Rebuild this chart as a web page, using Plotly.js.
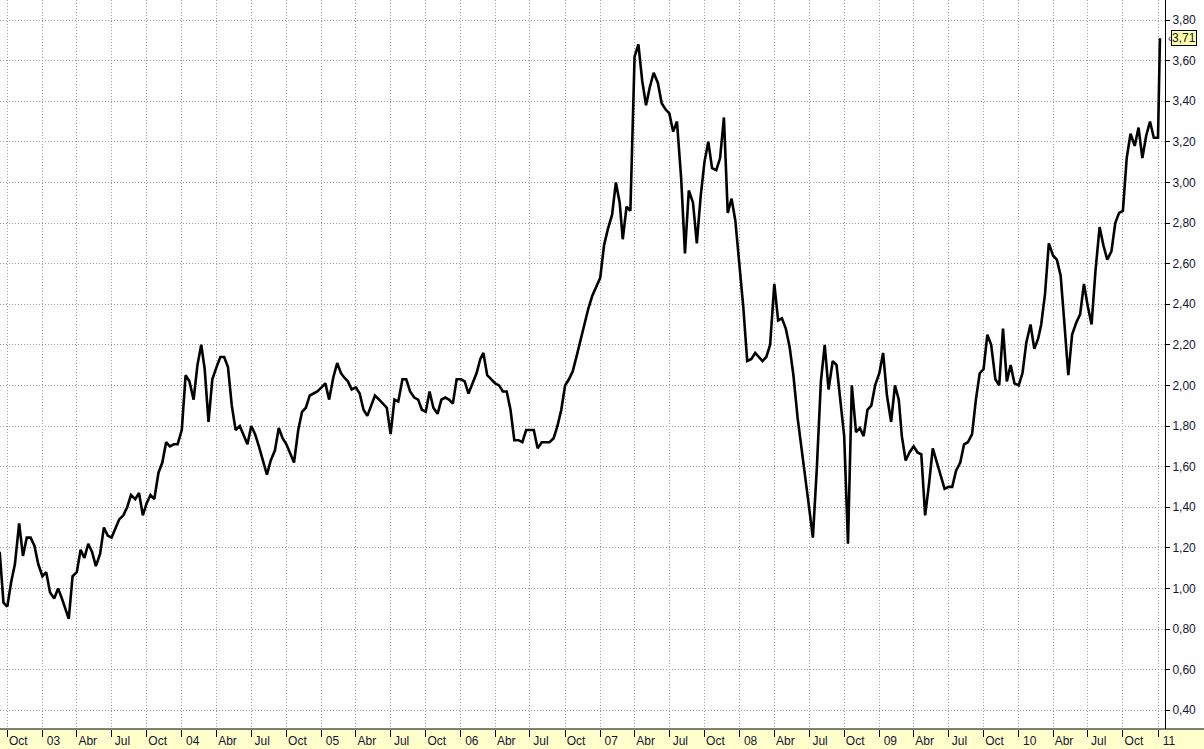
<!DOCTYPE html>
<html>
<head>
<meta charset="utf-8">
<script src="https://cdn.plot.ly/plotly-3.0.1.min.js"></script>
<style>
  html, body { margin: 0; padding: 0; background: #ffffff; }
  #chart { width: 1204px; height: 749px; }
</style>
</head>
<body>
<div id="chart"></div>
<script>
// ---- Data, 3 samples per month: day 1, 11, 21 ----
const SLOT_DAYS = [1, 11, 21];

// 2002: from Sep 11 to Dec 21
const close2002 = [1.18, 0.93, 0.91, 1.03, 1.12, 1.32, 1.16, 1.25, 1.25, 1.21, 1.12];
const close2003 = [
  1.06, 1.08, 0.98,  0.95, 1.00, 0.95,  0.90, 0.85, 1.06,  1.08, 1.19, 1.15,
  1.22, 1.18, 1.11,  1.17, 1.30, 1.26,  1.25, 1.30, 1.34,  1.36, 1.40, 1.46,
  1.44, 1.47, 1.36,  1.42, 1.46, 1.44,  1.57, 1.62, 1.72,  1.70, 1.71, 1.71
];
const close2004 = [
  1.78, 2.05, 2.02,  1.93, 2.10, 2.20,  2.08, 1.82, 2.03,  2.09, 2.14, 2.14,
  2.09, 1.90, 1.78,  1.80, 1.75, 1.71,  1.80, 1.76, 1.70,  1.62, 1.56, 1.63,
  1.68, 1.79, 1.74,  1.71, 1.66, 1.62,  1.78, 1.87, 1.89,  1.95, 1.96, 1.97
];
const close2005 = [
  1.99, 2.01, 1.93,  2.04, 2.11, 2.06,  2.04, 2.02, 1.98,  1.99, 1.96, 1.88,
  1.85, 1.90, 1.95,  1.93, 1.91, 1.89,  1.76, 1.93, 1.92,  2.03, 2.03, 1.97,
  1.94, 1.93, 1.88,  1.87, 1.97, 1.89,  1.86, 1.93, 1.94,  1.93, 1.91, 2.03
];
const close2006 = [
  2.03, 2.02, 1.96,  2.01, 2.06, 2.13,  2.16, 2.05, 2.03,  2.01, 2.00, 1.97,
  1.97, 1.88, 1.73,  1.73, 1.72, 1.78,  1.78, 1.78, 1.69,  1.72, 1.72, 1.72,
  1.74, 1.80, 1.88,  2.00, 2.03, 2.07,  2.15, 2.23, 2.31,  2.38, 2.44, 2.48
];
const close2007 = [
  2.53, 2.69, 2.77,  2.84, 3.00, 2.90,  2.72, 2.88, 2.86,  3.62, 3.68, 3.50,
  3.38, 3.47, 3.54,  3.49, 3.39, 3.36,  3.34, 3.25, 3.30,  3.02, 2.65, 2.96,
  2.90, 2.70, 2.93,  3.10, 3.20, 3.07,  3.06, 3.12, 3.32,  2.85, 2.92, 2.81
];
const close2008 = [
  2.59, 2.38, 2.12,  2.13, 2.16, 2.14,  2.12, 2.14, 2.20,  2.50, 2.32, 2.33,
  2.28, 2.19, 2.05,  1.84, 1.70, 1.54,  1.40, 1.25, 1.58,  2.02, 2.20, 1.98,
  2.12, 2.10, 1.93,  1.75, 1.22, 2.00,  1.77, 1.79, 1.75,  1.88, 1.90, 2.00
];
const close2009 = [
  2.06, 2.16, 1.95,  1.82, 2.00, 1.93,  1.75, 1.63, 1.67,  1.70, 1.67, 1.66,
  1.36, 1.51, 1.69,  1.62, 1.56, 1.49,  1.50, 1.50, 1.58,  1.62, 1.71, 1.72,
  1.76, 1.93, 2.06,  2.08, 2.25, 2.20,  2.03, 2.00, 2.28,  2.02, 2.10, 2.01
];
const close2010 = [
  2.00, 2.06, 2.21,  2.30, 2.18, 2.23,  2.30, 2.45, 2.70,  2.64, 2.62, 2.54,
  2.30, 2.05, 2.25,  2.31, 2.35, 2.50,  2.39, 2.30, 2.56,  2.78, 2.69, 2.62,
  2.66, 2.80, 2.85,  2.86, 3.12, 3.24,  3.18, 3.27, 3.12,  3.23, 3.30, 3.22
];
const dates2011 = ['2011-01-01', '2011-01-06'];
const close2011 = [3.22, 3.71];

const lastValueLabel = '3,71';
const lastValue = 3.71;

// axis ticks
const xTickVals = [
  '2002-10-01',
  '2003-01-01','2003-04-01','2003-07-01','2003-10-01',
  '2004-01-01','2004-04-01','2004-07-01','2004-10-01',
  '2005-01-01','2005-04-01','2005-07-01','2005-10-01',
  '2006-01-01','2006-04-01','2006-07-01','2006-10-01',
  '2007-01-01','2007-04-01','2007-07-01','2007-10-01',
  '2008-01-01','2008-04-01','2008-07-01','2008-10-01',
  '2009-01-01','2009-04-01','2009-07-01','2009-10-01',
  '2010-01-01','2010-04-01','2010-07-01','2010-10-01',
  '2011-01-01'
];
const xTickText = [
  'Oct',
  '03','Abr','Jul','Oct',
  '04','Abr','Jul','Oct',
  '05','Abr','Jul','Oct',
  '06','Abr','Jul','Oct',
  '07','Abr','Jul','Oct',
  '08','Abr','Jul','Oct',
  '09','Abr','Jul','Oct',
  '10','Abr','Jul','Oct',
  '11'
];
const yTickVals = [0.4,0.6,0.8,1.0,1.2,1.4,1.6,1.8,2.0,2.2,2.4,2.6,2.8,3.0,3.2,3.4,3.6,3.8];

// ---- build sample dates on the regular 1/11/21 schedule ----
function slotDates(year, firstMonth, firstSlot, n) {
  const out = [];
  let m = firstMonth, s = firstSlot;
  for (let i = 0; i < n; i++) {
    out.push(year + '-' + String(m).padStart(2, '0') + '-' + String(SLOT_DAYS[s]).padStart(2, '0'));
    s++; if (s === 3) { s = 0; m++; }
  }
  return out;
}

const xs = [].concat(
  slotDates(2002, 9, 1, close2002.length),
  slotDates(2003, 1, 0, close2003.length),
  slotDates(2004, 1, 0, close2004.length),
  slotDates(2005, 1, 0, close2005.length),
  slotDates(2006, 1, 0, close2006.length),
  slotDates(2007, 1, 0, close2007.length),
  slotDates(2008, 1, 0, close2008.length),
  slotDates(2009, 1, 0, close2009.length),
  slotDates(2010, 1, 0, close2010.length),
  dates2011
);
const ys = [].concat(close2002, close2003, close2004, close2005, close2006,
                     close2007, close2008, close2009, close2010, close2011);

const FONT = 'Liberation Sans, Arial, sans-serif';
const TXT = '#141432';

const trace = {
  type: 'scatter', mode: 'lines',
  x: xs, y: ys,
  line: { color: '#000000', width: 2.6 },
  hoverinfo: 'skip'
};

const plotW = 1165; // plot area width in px
const layout = {
  width: 1204, height: 749,
  margin: { l: 0, r: 39, t: 0, b: 20, pad: 0 },
  paper_bgcolor: '#ffffff', plot_bgcolor: '#ffffff',
  separators: ',.',
  showlegend: false,
  xaxis: {
    type: 'date',
    range: ['2002-09-11 21:00', '2011-01-19 07:00'],
    tickmode: 'array', tickvals: xTickVals, ticktext: xTickText,
    ticks: 'outside', ticklen: 7, tickwidth: 1, tickcolor: '#000',
    ticklabelshift: 11,
    ticklabelstandoff: -6,
    showline: false,
    showgrid: true, gridcolor: '#9a9a9a', gridwidth: 1, griddash: '1px,2px',
    zeroline: false, tickangle: 0,
    tickfont: { family: FONT, size: 12, color: TXT },
    fixedrange: true
  },
  yaxis: {
    side: 'right',
    range: [0.3074, 3.8985],
    tickmode: 'array', tickvals: yTickVals, tickformat: '.2f',
    ticks: 'outside', ticklen: 4, tickwidth: 1, tickcolor: '#000',
    showline: true, linecolor: '#000', linewidth: 1,
    showgrid: true, gridcolor: '#9a9a9a', gridwidth: 1, griddash: '1px,2px',
    zeroline: false,
    tickfont: { family: FONT, size: 12, color: TXT },
    fixedrange: true
  },
  shapes: [
    { type: 'rect', xref: 'paper', yref: 'paper', x0: 0, x1: 1204 / plotW, y0: -20 / 729, y1: 0,
      fillcolor: '#ffffcc', line: { width: 0 }, layer: 'below' },
    { type: 'line', xref: 'paper', yref: 'paper', x0: 0, x1: 1204 / plotW, y0: 0, y1: 0,
      line: { color: '#000', width: 1 } }
  ],
  annotations: [
    { xref: 'paper', yref: 'y', x: 1, y: lastValue, xanchor: 'left', yanchor: 'middle',
      xshift: 6, text: lastValueLabel, showarrow: false,
      bgcolor: '#ffffa8', bordercolor: '#000', borderwidth: 1, borderpad: 0,
      font: { family: FONT, size: 12, color: TXT } },
    { xref: 'paper', yref: 'y', x: 1, y: lastValue, xanchor: 'left', yanchor: 'middle',
      xshift: 1, text: '‹', showarrow: false,
      font: { family: FONT, size: 10, color: TXT } }
  ]
};

Plotly.newPlot('chart', [trace], layout, { staticPlot: true, displayModeBar: false });
</script>
</body>
</html>
